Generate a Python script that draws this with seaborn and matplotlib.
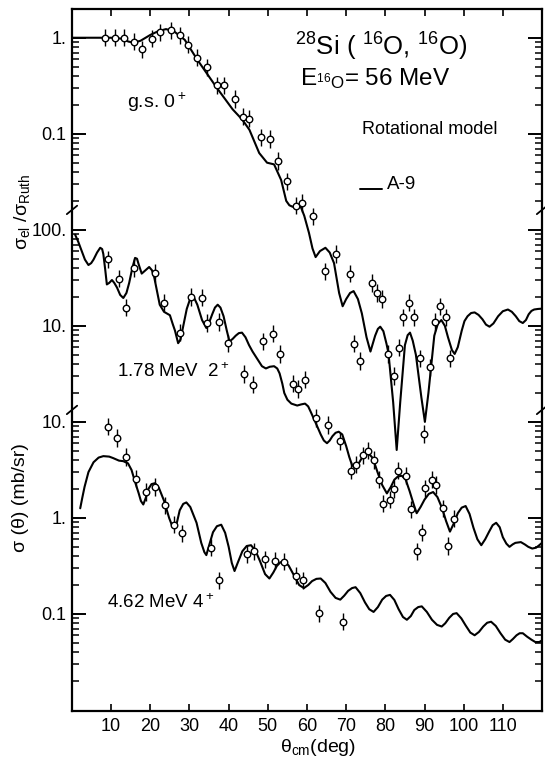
import matplotlib
matplotlib.use("Agg")
import numpy as np
import matplotlib.pyplot as plt
import matplotlib.ticker as mticker
import seaborn as sns

# ground state 0+ : sigma_el / sigma_Ruth
gs_curve_theta = [0, 5, 10, 12.5, 14.5, 15.8, 17.5, 20, 22, 24, 26, 28.8, 32, 37, 41, 43.5, 45.3, 47.8, 49.8, 51.6,
                  53.4, 54.7, 55.5, 56.3, 58.4, 59.3, 60.5, 61.4, 62.2, 63.3, 64.7, 65.8, 66.9, 68.2, 69.1, 70.0,
                  71.0, 71.9, 73.0, 74.0, 75.2, 76.2, 77.4, 78.1, 78.7, 79.5, 80.3, 80.8, 82.0, 82.9, 83.8, 85.0,
                  85.7, 86.3, 87.0, 87.8, 89.2, 90.1, 91.0, 92.5, 93.4, 94.3, 95.2, 96.0, 97.0, 97.7, 98.5, 99.5,
                  100.2, 101.0, 101.9, 102.8, 103.8, 104.8, 105.7, 106.6, 107.6, 108.8, 110.0, 111.3, 112.3, 113.3,
                  114.2, 115.1, 115.9, 116.6, 117.3, 118.0, 119.0, 120.0]
gs_curve_ratio = [1.0, 1.0, 1.0, 0.98, 0.91, 0.89, 0.93, 1.07, 1.17, 1.23, 1.17, 0.95, 0.59, 0.30, 0.18, 0.14, 0.11,
                  0.063, 0.050, 0.048, 0.033, 0.020, 0.018, 0.0174, 0.0174, 0.014, 0.0093, 0.0064, 0.0052, 0.0060,
                  0.0065, 0.0058, 0.0045, 0.0022, 0.0016, 0.0019, 0.0022, 0.0023, 0.0019, 0.00135, 0.00076, 0.00054,
                  0.00079, 0.00093, 0.00098, 0.00088, 0.00065, 0.00052, 0.00016, 0.000051, 0.00016, 0.00063, 0.0008,
                  0.00085, 0.0007, 0.0005, 0.00018, 0.00010, 0.00020, 0.00079, 0.00105, 0.00115, 0.0010, 0.00076,
                  0.00056, 0.00051, 0.0006, 0.00089, 0.00112, 0.00126, 0.00136, 0.00138, 0.0013, 0.00117, 0.00103,
                  0.00098, 0.00106, 0.00126, 0.00142, 0.00148, 0.0014, 0.00126, 0.00112, 0.00107, 0.00115, 0.00132,
                  0.00143, 0.00148, 0.0015, 0.00151]
gs_data_theta = [8.5, 11.0, 13.4, 15.8, 18.0, 20.3, 22.4, 25.2, 27.7, 29.5, 32.0, 34.5, 37.0, 38.8, 41.6, 43.6, 45.1,
                 48.2, 50.5, 52.6, 55.0, 57.1, 58.6, 61.5, 64.6, 67.3, 70.9, 71.9, 73.5, 76.6, 77.9, 79.1, 80.8,
                 82.1, 83.6, 84.6, 86.1, 87.4, 88.9, 89.9, 91.4, 92.7, 93.9, 95.4, 96.5]
gs_data_ratio = [1.0, 1.0, 1.0, 0.91, 0.76, 0.98, 1.14, 1.19, 1.06, 0.85, 0.62, 0.49, 0.32, 0.32, 0.23, 0.15, 0.143,
                 0.092, 0.088, 0.052, 0.032, 0.0178, 0.019, 0.0138, 0.0037, 0.0056, 0.0035, 0.00065, 0.00043,
                 0.0028, 0.0022, 0.0019, 0.00051, 0.00030, 0.00059, 0.00123, 0.00174, 0.00123, 0.00046, 0.000075,
                 0.00037, 0.0011, 0.0016, 0.00123, 0.00046]

# 1.78 MeV 2+ : sigma (mb/sr)
ex2_curve_theta = [0.8, 1.6, 2.5, 3.3, 4.2, 4.9, 5.5, 6.4, 7.2, 7.7, 8.0, 8.5, 8.9, 9.5, 10.2, 10.8, 11.5, 12.3, 13.1,
                   13.9, 14.6, 15.4, 16.1, 16.6, 17.0, 17.8, 18.8, 19.7, 20.4, 21.0, 21.7, 22.4, 23.5, 25.0, 25.7,
                   26.3, 27.1, 27.7, 28.3, 29.3, 30.5, 31.2, 32.0, 33.2, 34.3, 35.0, 35.8, 36.5, 37.2, 37.9, 38.7,
                   39.5, 40.2, 41.0, 41.8, 42.6, 43.4, 44.3, 45.2, 46.1, 47.5, 48.5, 49.5, 50.5, 51.6, 52.4, 53.0,
                   53.7, 54.2, 55.0, 56.0, 57.5, 58.5, 59.5, 60.3, 61.0, 62.2, 63.5, 64.3, 65.1, 65.8, 66.5, 67.3,
                   68.1, 69.0, 70.0, 70.8, 71.5, 72.4, 73.2, 74.0, 74.9, 75.7, 76.8, 78.0, 79.2, 80.4, 81.4, 82.3,
                   83.2, 84.2, 85.2, 86.2, 87.2, 88.0, 89.0, 90.0, 91.1, 92.2, 93.3, 94.5, 95.5, 96.5, 97.5, 98.5,
                   99.5, 100.5, 101.5, 102.5, 103.5, 104.5, 105.5, 106.5, 107.4, 108.3, 109.2, 110.0, 110.9, 111.7,
                   112.5, 113.2, 114.6, 115.6, 116.5, 117.5, 118.5, 119.3, 120.0]
ex2_curve_sigma = [89, 75, 60, 49, 43, 45, 49, 58, 65, 63, 56, 38, 27, 28, 30, 28, 25, 21, 19.5, 22, 28, 40, 51, 50,
                   44, 35, 38, 41, 38, 32, 23, 16.6, 14, 12.9, 10.5, 8.9, 6.6, 7.2, 9.5, 15, 21, 19.5, 16.6, 11.5,
                   9.5, 10.8, 13.2, 15.5, 16.6, 15.5, 12.6, 9.0, 6.9, 7.3, 7.9, 8.4, 8.5, 7.6, 6.3, 5.4, 4.4, 3.8,
                   3.6, 3.75, 3.8, 3.6, 3.2, 2.5, 2.0, 1.7, 1.55, 1.48, 1.52, 1.55, 1.45, 1.26, 0.98, 0.74, 0.64,
                   0.60, 0.64, 0.71, 0.77, 0.79, 0.74, 0.56, 0.43, 0.355, 0.33, 0.37, 0.42, 0.46, 0.47, 0.42, 0.30,
                   0.22, 0.18, 0.21, 0.25, 0.27, 0.275, 0.25, 0.19, 0.14, 0.112, 0.13, 0.155, 0.178, 0.186, 0.165,
                   0.126, 0.093, 0.072, 0.088, 0.112, 0.128, 0.133, 0.11, 0.079, 0.060, 0.052, 0.060, 0.072, 0.084,
                   0.089, 0.080, 0.063, 0.054, 0.050, 0.053, 0.055, 0.056, 0.053, 0.050, 0.048, 0.049, 0.052, 0.055]
ex2_data_theta = [9.1, 11.9, 13.7, 15.8, 21.2, 23.5, 27.7, 30.5, 33.3, 34.5, 37.5, 39.8, 44.0, 46.1, 48.8, 51.2,
                  53.1, 56.3, 57.8, 59.4, 62.4, 65.3, 68.4, 71.3, 72.6, 74.2, 75.7, 77.0, 78.3, 79.5, 81.2, 82.3,
                  83.3, 85.2, 86.6, 88.0, 89.4, 90.2, 91.9, 92.9, 94.6, 95.9, 97.5]
ex2_data_sigma = [49.5, 31, 15.5, 40, 35.5, 17.4, 8.5, 20, 19.7, 10.7, 11, 6.6, 3.16, 2.43, 6.9, 8.3, 5.1, 2.5, 2.2,
                  2.75, 1.10, 0.93, 0.63, 0.31, 0.36, 0.45, 0.50, 0.40, 0.25, 0.141, 0.155, 0.20, 0.31, 0.275, 0.123,
                  0.045, 0.071, 0.204, 0.25, 0.22, 0.126, 0.051, 0.098]

# 4.62 MeV 4+ : sigma (mb/sr)
ex4_curve_theta = [2.1, 2.6, 3.2, 4.2, 5.5, 6.8, 8.0, 9.5, 10.5, 12.0, 13.1, 14.3, 15.2, 16.2, 17.0, 17.6, 18.2, 18.8,
                   19.5, 20.3, 21.2, 22.2, 23.5, 24.8, 25.6, 26.2, 26.8, 27.5, 28.4, 29.2, 30.2, 31.8, 33.0, 33.8,
                   34.3, 34.9, 36.0, 37.0, 38.1, 39.1, 40.0, 40.8, 41.5, 42.3, 43.5, 44.6, 45.7, 46.8, 48.0, 49.3,
                   50.4, 51.4, 52.3, 53.2, 54.2, 55.3, 56.5, 58.0, 59.2, 60.3, 61.3, 62.4, 63.5, 64.7, 66.0, 67.3,
                   68.5, 69.5, 70.5, 71.5, 72.4, 73.6, 74.8, 75.9, 77.0, 78.1, 79.2, 80.2, 81.2, 82.3, 83.4, 84.5,
                   85.5, 86.5, 87.4, 88.4, 89.3, 90.6, 91.9, 93.2, 94.4, 95.3, 96.3, 97.3, 98.2, 99.4, 100.5, 101.7,
                   102.8, 103.9, 105.0, 106.0, 107.0, 108.2, 109.4, 110.6, 111.7, 112.6, 113.5, 114.3, 115.1, 116.2,
                   117.3, 118.3, 119.3, 120.0]
ex4_curve_sigma = [1.26, 1.6, 2.1, 3.0, 3.8, 4.25, 4.4, 4.35, 4.2, 3.95, 3.9, 3.7, 3.16, 2.3, 1.82, 1.5, 1.38, 1.6,
                   2.0, 2.25, 2.3, 2.05, 1.51, 1.0, 0.82, 0.78, 0.9, 1.2, 1.4, 1.45, 1.3, 0.89, 0.55, 0.44, 0.41, 0.5,
                   0.71, 0.82, 0.85, 0.7, 0.50, 0.34, 0.28, 0.34, 0.45, 0.51, 0.52, 0.46, 0.355, 0.26, 0.234, 0.27,
                   0.316, 0.345, 0.35, 0.32, 0.26, 0.20, 0.186, 0.20, 0.22, 0.232, 0.234, 0.21, 0.17, 0.147, 0.141,
                   0.155, 0.174, 0.186, 0.19, 0.165, 0.132, 0.112, 0.105, 0.118, 0.141, 0.154, 0.158, 0.14, 0.112,
                   0.093, 0.087, 0.095, 0.11, 0.118, 0.12, 0.105, 0.087, 0.077, 0.074, 0.080, 0.091, 0.10, 0.102,
                   0.090, 0.076, 0.064, 0.060, 0.065, 0.074, 0.081, 0.083, 0.075, 0.063, 0.054, 0.051, 0.055, 0.060,
                   0.063, 0.063, 0.058, 0.054, 0.051, 0.051, 0.053]
ex4_data_theta = [9.1, 11.4, 13.7, 16.3, 18.9, 21.2, 23.7, 26.1, 28.2, 35.4, 37.5, 44.6, 46.5, 49.3, 51.8, 54.2,
                  57.1, 59.0, 63.0, 69.1]
ex4_data_sigma = [8.9, 6.8, 4.3, 2.57, 1.86, 2.1, 1.35, 0.85, 0.69, 0.49, 0.224, 0.42, 0.45, 0.37, 0.36, 0.35, 0.25,
                  0.224, 0.102, 0.083]

# vertical shift of each panel on the shared log axis
shifts = {"gs": 1e5, "ex2": 10.0, "ex4": 1.0}
err_factor = 1.23

y_tick_values = [0.1, 1, 10, 100, 1e3, 1e4, 1e5]
y_tick_labels = ["0.1", "1.", "10.", "10.", "100.", "0.1", "1."]
x_ticks = [10, 20, 30, 40, 50, 60, 70, 80, 90, 100, 110]

sns.set_style("ticks")
plt.rcParams["font.family"] = ["Liberation Sans", "DejaVu Sans"]
plt.rcParams["mathtext.fontset"] = "custom"
plt.rcParams["mathtext.rm"] = "Liberation Sans"
plt.rcParams["mathtext.it"] = "Liberation Sans"
plt.rcParams["mathtext.sf"] = "Liberation Sans"
for k in ("text.color", "axes.labelcolor", "xtick.color", "ytick.color", "axes.edgecolor"):
    plt.rcParams[k] = "black"

fig = plt.figure(figsize=(5.45, 7.63), dpi=100)
ax = fig.add_axes([0.1321, 0.0682, 0.8624, 0.9201])
ax.set_yscale("log")

series = [
    ("gs", gs_curve_theta, gs_curve_ratio, gs_data_theta, gs_data_ratio),
    ("ex2", ex2_curve_theta, ex2_curve_sigma, ex2_data_theta, ex2_data_sigma),
    ("ex4", ex4_curve_theta, ex4_curve_sigma, ex4_data_theta, ex4_data_sigma),
]
for key, ct, cy, dt, dy in series:
    s = shifts[key]
    cy = np.array(cy) * s
    dy = np.array(dy) * s
    sns.lineplot(x=ct, y=cy, color="black", linewidth=1.5, estimator=None, ax=ax, zorder=2)
    ax.errorbar(dt, dy, yerr=[dy - dy / err_factor, dy * err_factor - dy], fmt="none",
                ecolor="black", elinewidth=1.0, capsize=0, zorder=3)
    sns.scatterplot(x=dt, y=dy, marker="o", s=22, facecolor="white", edgecolor="black",
                    linewidth=1.0, ax=ax, zorder=4)

ax.set_xlim(0, 120)
ax.set_ylim(10 ** -2.01, 10 ** 5.30)

ax.set_xticks(x_ticks)
ax.set_xticklabels([str(t) for t in x_ticks], fontsize=13)
ax.yaxis.set_major_locator(mticker.FixedLocator(y_tick_values))
ax.yaxis.set_major_formatter(mticker.FixedFormatter(y_tick_labels))
ax.yaxis.set_minor_locator(mticker.LogLocator(base=10, subs=np.arange(2, 10), numticks=30))
ax.yaxis.set_minor_formatter(mticker.NullFormatter())
ax.tick_params(axis="y", which="major", direction="in", length=10, width=1.4, labelsize=13,
               left=True, right=True, pad=4)
ax.tick_params(axis="y", which="minor", direction="in", length=5, width=1.1, left=True, right=True)
ax.tick_params(axis="x", which="major", direction="in", length=5, width=1.2, top=True, bottom=True, pad=5)
for sp in ax.spines.values():
    sp.set_linewidth(1.6)

# axis breaks
for yb in (0.7137, 0.4288):
    for xb in (0.0, 1.0):
        ax.plot([xb - 0.011, xb + 0.011], [yb - 0.006, yb + 0.006], color="black", lw=1.3,
                transform=ax.transAxes, clip_on=False, zorder=5)

# annotations
ax.text(0.474, 0.934, r"$^{28}$Si ( $^{16}$O, $^{16}$O)", transform=ax.transAxes, fontsize=18.5, va="baseline")
ax.text(0.485, 0.891, r"E$_{^{16}\mathrm{O}}$= 56 MeV", transform=ax.transAxes, fontsize=17.5, va="baseline")
ax.text(0.617, 0.822, "Rotational model", transform=ax.transAxes, fontsize=13, va="baseline")
ax.plot([0.613, 0.66], [0.743, 0.743], color="black", lw=1.4, transform=ax.transAxes)
ax.text(0.67, 0.743, "A-9", transform=ax.transAxes, fontsize=13.5, va="baseline")
ax.text(0.117, 0.860, r"g.s. 0$^+$", transform=ax.transAxes, fontsize=14, va="baseline")
ax.text(0.096, 0.476, r"1.78 MeV  2$^+$", transform=ax.transAxes, fontsize=13.5, va="baseline")
ax.text(0.074, 0.147, r"4.62 MeV 4$^+$", transform=ax.transAxes, fontsize=13.5, va="baseline")

fig.text(22 / 545, 1 - 212 / 763, r"σ$_{\mathrm{el}}$ /σ$_{\mathrm{Ruth}}$", rotation=90,
         ha="center", va="center", fontsize=14)
fig.text(21 / 545, 1 - 498 / 763, r"σ (θ) (mb/sr)", rotation=90, ha="center", va="center", fontsize=14)
fig.text(318 / 545, 1 - 748 / 763, r"θ$_{\mathrm{cm}}$(deg)", ha="center", va="center", fontsize=14)

fig.savefig("out.png", dpi=100, facecolor="white")
